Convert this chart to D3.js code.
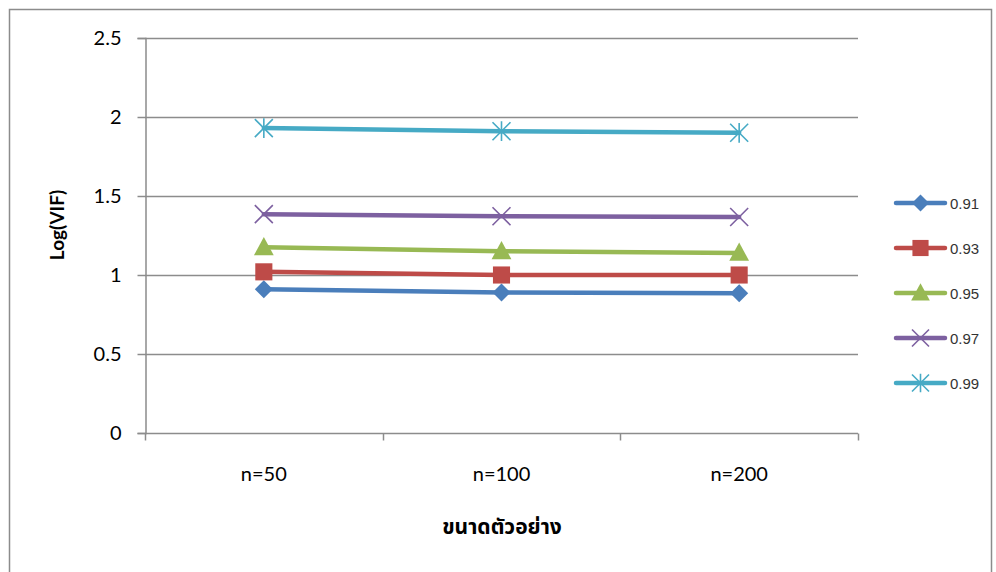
<!DOCTYPE html>
<html>
<head>
<meta charset="utf-8">
<script src="https://cdn.jsdelivr.net/npm/d3@7"></script>
<style>
  body { margin: 0; background: #fff; }
  svg { display: block; }
</style>
</head>
<body>
<svg id="chart" width="996" height="572"></svg>
<script>
// Sample sizes on the x axis
const categories = ["n=50", "n=100", "n=200"];
// Correlation levels, one line each
const seriesNames = ["0.91", "0.93", "0.95", "0.97", "0.99"];
// Log(VIF) per correlation level, for n=50, n=100, n=200
const v091 = [0.91, 0.89, 0.885];
const v093 = [1.02, 1.0, 1.0];
const v095 = [1.175, 1.15, 1.14];
const v097 = [1.385, 1.372, 1.367];
const v099 = [1.93, 1.91, 1.90];
const yTicks = [0, 0.5, 1, 1.5, 2, 2.5];

const seriesValues = [v091, v093, v095, v097, v099];
const colors = ["#4a7ebb", "#be4b48", "#98b954", "#7d60a0", "#46aac5"];
const markers = ["diamond", "square", "triangle", "x", "star"];

const labelFont = "Lato, 'Open Sans', sans-serif";
const svg = d3.select("#chart");

// outer frame
svg.append("rect").attr("x", 9.5).attr("y", 9.5).attr("width", 982).attr("height", 580)
  .attr("fill", "#fff").attr("stroke", "#8c8c8c").attr("stroke-width", 1.5);

const plotLeft = 145, plotRight = 858, plotTop = 38, plotBottom = 433;

const x = d3.scaleBand().domain(categories).range([plotLeft, plotRight]);
const y = d3.scaleLinear().domain([0, 2.5]).range([plotBottom, plotTop]);

// horizontal gridlines
svg.append("g").selectAll("line").data(yTicks.filter(d => d > 0)).join("line")
  .attr("x1", plotLeft).attr("x2", plotRight)
  .attr("y1", d => Math.round(y(d)) + 0.5).attr("y2", d => Math.round(y(d)) + 0.5)
  .attr("stroke", "#8c8c8c").attr("stroke-width", 1.5);

// y axis
const yAxis = svg.append("g").attr("transform", `translate(${plotLeft + 0.5},0)`)
  .call(d3.axisLeft(y).tickValues(yTicks).tickSize(8).tickPadding(16).tickFormat(d3.format("")));
yAxis.select(".domain").attr("stroke", "#8c8c8c").attr("stroke-width", 1.5);
yAxis.selectAll(".tick line").attr("stroke", "#8c8c8c").attr("stroke-width", 1.5);
yAxis.selectAll("text").attr("font-family", labelFont)
  .attr("font-size", 20).attr("fill", "#000");

// x axis: ticks between categories
const xAxisG = svg.append("g").attr("transform", `translate(0,${plotBottom + 0.5})`);
xAxisG.append("line").attr("x1", plotLeft).attr("x2", plotRight)
  .attr("stroke", "#8c8c8c").attr("stroke-width", 1.5);
const boundaries = categories.map(c => x(c)).concat([plotRight]);
xAxisG.selectAll("line.tk").data(boundaries).join("line").attr("class", "tk")
  .attr("x1", d => Math.round(d) + 0.5).attr("x2", d => Math.round(d) + 0.5)
  .attr("y1", 0).attr("y2", 7).attr("stroke", "#8c8c8c").attr("stroke-width", 1.5);
xAxisG.selectAll("text").data(categories).join("text")
  .attr("x", d => x(d) + x.bandwidth() / 2).attr("y", 47)
  .attr("text-anchor", "middle")
  .attr("font-family", labelFont).attr("font-size", 20).attr("fill", "#000")
  .text(d => d);

// axis titles
svg.append("text").attr("x", (plotLeft + plotRight) / 2 + 0.5).attr("y", 534).attr("text-anchor", "middle")
  .attr("font-family", "'Noto Sans Thai', 'Noto Sans', 'DejaVu Sans', sans-serif")
  .attr("font-weight", "bold").attr("font-size", 21).attr("fill", "#000")
  .text("ขนาดตัวอย่าง");
svg.append("text").attr("transform", "translate(64,225) rotate(-90)")
  .attr("text-anchor", "middle")
  .attr("font-family", labelFont)
  .attr("font-weight", "bold").attr("font-size", 19).attr("fill", "#000")
  .text("Log(VIF)");

// marker drawing
function drawMarker(g, type, cx, cy, color, s) {
  if (type === "diamond") {
    g.append("path").attr("d", `M${cx},${cy - s}L${cx + s},${cy}L${cx},${cy + s}L${cx - s},${cy}Z`)
      .attr("fill", color);
  } else if (type === "square") {
    g.append("rect").attr("x", cx - s * 0.95).attr("y", cy - s * 0.95)
      .attr("width", s * 1.9).attr("height", s * 1.9).attr("fill", color);
  } else if (type === "triangle") {
    const t = s * 1.1;
    g.append("path").attr("d", `M${cx},${cy - t * 1.05}L${cx + t},${cy + t * 0.8}L${cx - t},${cy + t * 0.8}Z`)
      .attr("fill", color);
  } else if (type === "x") {
    g.append("path").attr("d", `M${cx - s},${cy - s}L${cx + s},${cy + s}M${cx - s},${cy + s}L${cx + s},${cy - s}`)
      .attr("stroke", color).attr("stroke-width", 1.6).attr("fill", "none");
  } else if (type === "star") {
    g.append("path").attr("d",
      `M${cx - s},${cy - s}L${cx + s},${cy + s}M${cx - s},${cy + s}L${cx + s},${cy - s}M${cx},${cy - s * 1.1}L${cx},${cy + s * 1.1}`)
      .attr("stroke", color).attr("stroke-width", 1.6).attr("fill", "none");
  }
}

const line = d3.line().x((d, i) => x(categories[i]) + x.bandwidth() / 2).y(d => y(d));

seriesValues.forEach((vals, si) => {
  const g = svg.append("g");
  g.append("path").datum(vals).attr("d", line).attr("fill", "none")
    .attr("stroke", colors[si]).attr("stroke-width", 4.5).attr("stroke-linecap", "round");
  vals.forEach((v, i) => {
    drawMarker(g, markers[si], x(categories[i]) + x.bandwidth() / 2, y(v), colors[si], 9);
  });
});

// legend
const legend = svg.append("g");
seriesNames.forEach((name, i) => {
  const ly = 203 + i * 45;
  const g = legend.append("g");
  g.append("line").attr("x1", 896).attr("x2", 945).attr("y1", ly).attr("y2", ly)
    .attr("stroke", colors[i]).attr("stroke-width", 4.5).attr("stroke-linecap", "round");
  drawMarker(g, markers[i], 920.5, ly, colors[i], 8.5);
  g.append("text").attr("x", 950).attr("y", ly + 5.5)
    .attr("font-family", "'Liberation Sans', Arial, sans-serif").attr("font-size", 15).attr("fill", "#333")
    .text(name);
});
</script>
</body>
</html>
